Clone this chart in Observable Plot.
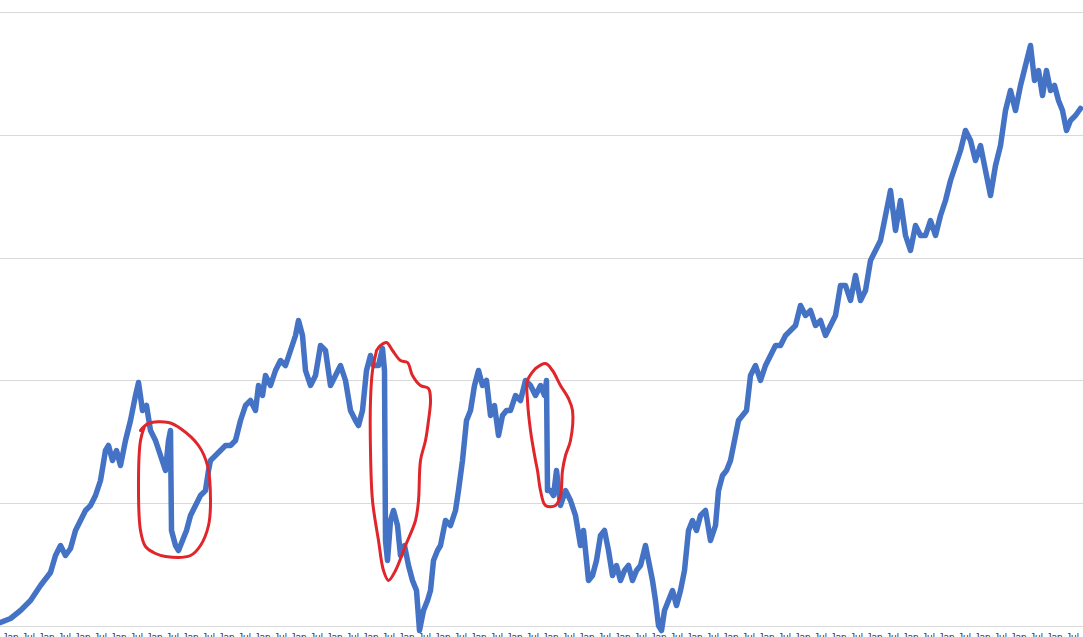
<!DOCTYPE html>
<html>
<head>
<meta charset="utf-8">
<script src="https://cdn.jsdelivr.net/npm/d3@7"></script>
<script src="https://cdn.jsdelivr.net/npm/@observablehq/plot@0.6"></script>
<style>
  html, body { margin: 0; padding: 0; background: #fff; overflow: hidden; }
  #chart { width: 1083px; height: 637px; overflow: hidden; }
</style>
</head>
<body>
<div id="chart"></div>
<script>
// Series (t = time index, v = value)
const seriesT = [0,10,20,30,40,50,55,60,65,70,75,80,85,90,95,100,105,108,112,116,120,125,130,135,138,142,146,150,155,160,165,168,170,171,175,178,182,186,190,195,200,205,208,210,215,220,225,230,235,240,245,250,255,258,262,265,270,275,280,285,290,295,298,302,305,310,315,320,325,330,335,340,345,350,355,358,362,366,370,373,378,382,384,385,387,390,393,397,400,404,408,412,416,419,423,427,430,433,437,440,445,450,455,458,462,466,470,474,478,482,486,490,494,498,502,506,510,515,520,525,530,535,540,544,546,547,550,553,556,560,565,570,575,580,583,588,592,596,600,604,608,612,616,620,624,628,632,636,640,645,648,652,655,658,661,664,668,672,676,680,684,688,692,696,700,705,710,715,718,722,726,730,734,738,742,746,750,755,760,765,770,775,780,785,790,795,800,805,810,815,820,825,830,835,840,845,850,855,860,865,870,875,880,885,890,895,900,905,910,915,920,925,930,935,940,945,950,955,960,965,970,975,980,985,990,995,1000,1005,1010,1015,1020,1025,1030,1034,1038,1042,1046,1050,1054,1058,1062,1066,1070,1075,1080];
const seriesV = [4,8,16,26,41,54,71,81,71,78,96,106,116,121,131,146,176,181,166,176,161,186,206,231,244,216,221,196,186,171,156,186,196,96,81,76,86,96,111,121,131,136,156,166,171,176,181,181,186,206,221,226,216,241,231,251,241,256,266,261,276,291,306,291,256,241,251,281,276,241,251,261,246,216,206,201,216,256,271,261,261,278,256,86,66,106,116,101,71,81,61,46,36,-4,16,26,36,66,76,81,106,101,116,136,166,206,216,241,256,241,246,211,221,191,211,216,216,231,226,246,241,231,241,231,246,136,136,131,156,121,136,126,111,81,96,46,51,66,91,96,76,51,61,46,56,61,46,56,61,81,66,46,26,1,-4,16,26,36,21,36,56,96,106,96,111,116,86,101,136,151,156,166,186,206,211,216,251,261,246,261,271,281,281,291,296,301,321,311,316,301,306,291,301,311,341,341,326,351,326,336,366,376,386,411,436,396,426,391,376,401,391,391,406,391,411,426,446,461,476,496,486,466,481,456,431,461,481,516,536,516,541,561,581,546,556,531,556,536,541,526,516,496,506,511,518];

// Hand-drawn red annotation loops (same t / v units)
const loop1T = [140,148,168,180,198,207,210,208,200,190,165,155,145,140,138,140,144];
const loop1V = [196,203,204,198,181,161,126,101,81,71,70,73,80,96,146,186,200];
const loop2T = [376,380,386,392,400,407,412,420,428,430,428,425,420,418,415,405,395,388,383,378,372,370,370,372,376];
const loop2V = [276,281,284,276,266,264,251,241,238,226,206,186,166,126,106,81,56,46,56,86,126,176,226,256,276];
const loop3T = [535,545,552,560,568,572,570,565,562,560,555,545,540,537,535,530,527,527,535];
const loop3V = [258,263,256,241,228,216,186,171,156,131,121,121,136,156,166,196,226,246,258];

const gridValues = [0,123,246,368,491,614];
const tickLabels = ["Jan","Jul","Jan","Jul","Jan","Jul","Jan","Jul","Jan","Jul","Jan","Jul","Jan","Jul","Jan","Jul","Jan","Jul","Jan","Jul","Jan","Jul","Jan","Jul","Jan","Jul","Jan","Jul","Jan","Jul","Jan","Jul","Jan","Jul","Jan","Jul","Jan","Jul","Jan","Jul","Jan","Jul","Jan","Jul","Jan","Jul","Jan","Jul","Jan","Jul","Jan","Jul","Jan","Jul","Jan","Jul","Jan","Jul","Jan","Jul"];

const series = seriesT.map((t, i) => ({t, v: seriesV[i]}));
const loops = [
  ...loop1T.map((t, i) => ({id: 1, t, v: loop1V[i]})),
  ...loop2T.map((t, i) => ({id: 2, t, v: loop2V[i]})),
  ...loop3T.map((t, i) => ({id: 3, t, v: loop3V[i]}))
];
const tickPos = tickLabels.map((_, i) => 10 + i * 18);

const chart = Plot.plot({
  width: 1083,
  height: 660,
  marginLeft: 0,
  marginRight: 0,
  marginTop: 12,
  marginBottom: 34,
  style: {background: "#fff", fontFamily: "Liberation Sans, Arial, sans-serif"},
  x: {domain: [0, 1083]},
  y: {domain: [0, 614], axis: null},
  marks: [
    Plot.ruleY(gridValues, {stroke: "#d9d9d9", strokeWidth: 1}),
    Plot.axisX(tickPos, {tickSize: 0, tickPadding: 7, fontSize: 10, fill: "#404040",
      tickFormat: (d, i) => tickLabels[i], label: null}),
    Plot.line(series, {x: "t", y: "v", stroke: "#4472C4", strokeWidth: 5.5,
      strokeLinejoin: "round", strokeLinecap: "round"}),
    Plot.line(loops, {x: "t", y: "v", z: "id", stroke: "#E0252B", strokeWidth: 3,
      curve: "catmull-rom", strokeLinejoin: "round", strokeLinecap: "round"})
  ]
});
document.getElementById("chart").append(chart);
</script>
</body>
</html>
